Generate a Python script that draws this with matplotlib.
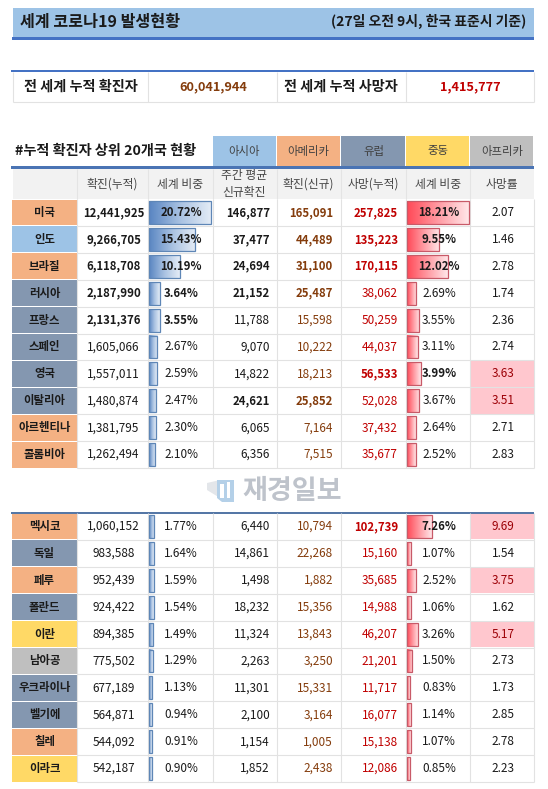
import numpy as np
import matplotlib
matplotlib.use('Agg')
import matplotlib.pyplot as plt
from matplotlib.colors import LinearSegmentedColormap
from matplotlib.patches import Polygon, Rectangle

plt.rcParams['font.family'] = ['Noto Sans CJK KR', 'DejaVu Sans']

# data
world_cases = 60041944
world_deaths = 1415777
regions = ['아시아', '아메리카', '유럽', '중동', '아프리카']
columns = ['확진(누적)', '세계 비중', '주간 평균\n신규확진', '확진(신규)', '사망(누적)', '세계 비중', '사망률']
countries = ['미국', '인도', '브라질', '러시아', '프랑스', '스페인', '영국', '이탈리아', '아르헨티나', '콜롬비아',
             '멕시코', '독일', '페루', '폴란드', '이란', '남아공', '우크라이나', '벨기에', '칠레', '이라크']
country_region = ['아메리카', '아시아', '아메리카', '유럽', '유럽', '유럽', '유럽', '유럽', '아메리카', '아메리카',
                  '아메리카', '유럽', '아메리카', '유럽', '중동', '아프리카', '유럽', '유럽', '아메리카', '중동']
cases = [12441925, 9266705, 6118708, 2187990, 2131376, 1605066, 1557011, 1480874, 1381795, 1262494,
         1060152, 983588, 952439, 924422, 894385, 775502, 677189, 564871, 544092, 542187]
case_share = [20.72, 15.43, 10.19, 3.64, 3.55, 2.67, 2.59, 2.47, 2.30, 2.10,
              1.77, 1.64, 1.59, 1.54, 1.49, 1.29, 1.13, 0.94, 0.91, 0.90]
weekly_avg = [146877, 37477, 24694, 21152, 11788, 9070, 14822, 24621, 6065, 6356,
              6440, 14861, 1498, 18232, 11324, 2263, 11301, 2100, 1154, 1852]
new_cases = [165091, 44489, 31100, 25487, 15598, 10222, 18213, 25852, 7164, 7515,
             10794, 22268, 1882, 15356, 13843, 3250, 15331, 3164, 1005, 2438]
deaths = [257825, 135223, 170115, 38062, 50259, 44037, 56533, 52028, 37432, 35677,
          102739, 15160, 35685, 14988, 46207, 21201, 11717, 16077, 15138, 12086]
death_share = [18.21, 9.55, 12.02, 2.69, 3.55, 3.11, 3.99, 3.67, 2.64, 2.52,
               7.26, 1.07, 2.52, 1.06, 3.26, 1.50, 0.83, 1.14, 1.07, 0.85]
fatality = [2.07, 1.46, 2.78, 1.74, 2.36, 2.74, 3.63, 3.51, 2.71, 2.83,
            9.69, 1.54, 3.75, 1.62, 5.17, 2.73, 1.73, 2.85, 2.78, 2.23]

region_colors = {'아시아': '#9DC3E6', '아메리카': '#F4B183', '유럽': '#8497B0', '중동': '#FFD966', '아프리카': '#BFBFBF'}
BLUE = '#4472C4'
GRID = '#E2E2E2'
BROWN = '#843C0C'
RED = '#C00000'
col_x = [12, 77, 148, 212.5, 276.5, 341, 406, 470, 534]
row_h = 26.9
top1 = 199
top2 = 513

fig = plt.figure(figsize=(5.48, 7.89), dpi=100)
ax = fig.add_axes([0, 0, 1, 1])


def box(x0, y0, x1, y1, color):
    ax.add_patch(Rectangle((x0, y0), x1 - x0, y1 - y0, facecolor=color, edgecolor='none', zorder=1))


def hline(x0, x1, y, color=GRID, lw=0.8):
    ax.plot([x0, x1], [y, y], color=color, lw=lw, solid_capstyle='butt', zorder=2)


def vline(x, y0, y1, color=GRID, lw=0.8):
    ax.plot([x, x], [y0, y1], color=color, lw=lw, solid_capstyle='butt', zorder=2)


def gradient_bar(y, left, width, height, cmap, edge):
    bar = ax.barh(y, width, left=left, height=height, facecolor='none', edgecolor=edge, linewidth=0.9, zorder=4)[0]
    ax.imshow(np.linspace(0, 1, 64).reshape(1, -1), extent=(left, left + width, y + height / 2, y - height / 2),
              cmap=cmap, aspect='auto', zorder=3)
    return bar


blue_grad = LinearSegmentedColormap.from_list('blue_grad', ['#5A86C2', '#A9C2E2', '#E4ECF6'])
red_grad = LinearSegmentedColormap.from_list('red_grad', ['#FF4A58', '#FF9AA2', '#FFE6E8'])

# title band
box(12.5, 7.5, 534, 37, '#9DC3E6')
box(11.5, 37, 534, 40, BLUE)
ax.text(20, 21.7, '세계 코로나19 발생현황', fontsize=11.6, fontweight='bold', color='#1A1A1A', va='center')
ax.text(526, 21.7, '(27일 오전 9시, 한국 표준시 기준)', fontsize=10, fontweight='bold', color='#1A1A1A', va='center', ha='right')

# world totals
box(10.5, 70, 534, 72, BLUE)
sum_x = [12.5, 147.5, 277, 406, 534]
hline(12.5, 534, 102)
for x in sum_x:
    vline(x, 72, 102)
ax.text(80.5, 87, '전 세계 누적 확진자', fontsize=10.2, fontweight='bold', color='#1A1A1A', ha='center', va='center')
ax.text(213, 87, f'{world_cases:,}', fontsize=9.2, fontweight='bold', color=BROWN, ha='center', va='center')
ax.text(341, 87, '전 세계 누적 사망자', fontsize=10.2, fontweight='bold', color='#1A1A1A', ha='center', va='center')
ax.text(470, 87, f'{world_deaths:,}', fontsize=9.2, fontweight='bold', color=RED, ha='center', va='center')

# region legend and header
ax.text(15, 151, '#누적 확진자 상위 20개국 현황', fontsize=10.2, fontweight='bold', color='#1A1A1A', va='center')
for i, name in enumerate(regions):
    x0, x1 = col_x[i + 3], col_x[i + 4]
    box(x0, 135.7, x1 - 0.8, 166, region_colors[name])
    ax.text((x0 + x1) / 2, 151, name, fontsize=8.2, color='#404040', ha='center', va='center')
box(12.5, 169, 534, 199, '#F2F2F2')
box(10.5, 166, 534, 169, '#4A74B4')
for x in col_x[1:-1]:
    vline(x, 169, 199, color='#E4E4E4')
for i, name in enumerate(columns):
    ax.text((col_x[i + 1] + col_x[i + 2]) / 2, 184, name, fontsize=8.5, color='#454545', ha='center', va='center',
            linespacing=1.4)

# country rows
box(10.5, top2 - 1.5, 534, top2 + 0.5, '#5577A6')
for i, name in enumerate(countries):
    top = (top1 if i < 10 else top2) + (i % 10) * row_h
    mid = top + row_h / 2
    ax.add_patch(Rectangle((col_x[0], top + 0.5), col_x[1] - col_x[0] - 0.5, row_h - 1,
                           facecolor=region_colors[country_region[i]], edgecolor='none', zorder=1))
    ax.text((col_x[0] + col_x[1]) / 2, mid, name, fontsize=8.2, fontweight='bold', color='#1A1A1A',
            ha='center', va='center', zorder=5)
    if fatality[i] > 3.5:
        box(col_x[7] + 0.5, top + 0.5, col_x[8], top + row_h - 0.5, '#FFC7CE')
    hline(col_x[1], col_x[8], top + row_h)
    for x in col_x[1:]:
        vline(x, top, top + row_h)

    gradient_bar(mid, col_x[2] + 1, case_share[i] * 3.0, row_h - 4, blue_grad, '#5E86B6')
    gradient_bar(mid, col_x[6] + 1, death_share[i] * 3.4, row_h - 4, red_grad, '#C85A68')

    def cell(x, label, bold, color='#1A1A1A', ha='center'):
        ax.text(x, mid, label, fontsize=8.2 if bold else 8.5, fontweight='bold' if bold else 'normal', color=color,
                ha=ha, va='center', zorder=5)

    cell((col_x[1] + col_x[2]) / 2 + 1, f'{cases[i]:,}', cases[i] >= 2000000)
    cell((col_x[2] + col_x[3]) / 2 + 1, f'{case_share[i]:.2f}%', case_share[i] >= 3)
    cell(col_x[4] - 6.5, f'{weekly_avg[i]:,}', weekly_avg[i] >= 20000, ha='right')
    cell(col_x[5] - 8, f'{new_cases[i]:,}', new_cases[i] >= 25000, color=BROWN, ha='right')
    cell(col_x[6] - 8, f'{deaths[i]:,}', deaths[i] >= 56000, color=RED, ha='right')
    cell((col_x[6] + col_x[7]) / 2 + 1, f'{death_share[i]:.2f}%', death_share[i] >= 3.99)
    cell((col_x[7] + col_x[8]) / 2 + 1, f'{fatality[i]:.2f}', False,
         color='#9C0006' if fatality[i] > 3.5 else '#1A1A1A')

# watermark
ax.add_patch(Polygon([(207, 483), (220, 480), (220, 498), (207, 490)], facecolor='#E3E6EA', edgecolor='none', zorder=1))
ax.add_patch(Polygon([(217, 480), (234, 480), (234, 502), (222, 502), (217, 498)], facecolor='#B4D0E8', edgecolor='none', zorder=1))
ax.add_patch(Polygon([(220, 484), (224, 484), (224, 498), (220, 498)], facecolor='white', edgecolor='none', zorder=1))
ax.add_patch(Polygon([(227, 482), (230, 482), (230, 498), (227, 498)], facecolor='white', edgecolor='none', zorder=1))
ax.text(292, 491, '재경일보', fontsize=19.5, fontweight='bold', color='#BEC3CB', ha='center', va='center')

ax.set_xlim(0, 548)
ax.set_ylim(789, 0)
ax.axis('off')
fig.savefig('out.png', dpi=100)
